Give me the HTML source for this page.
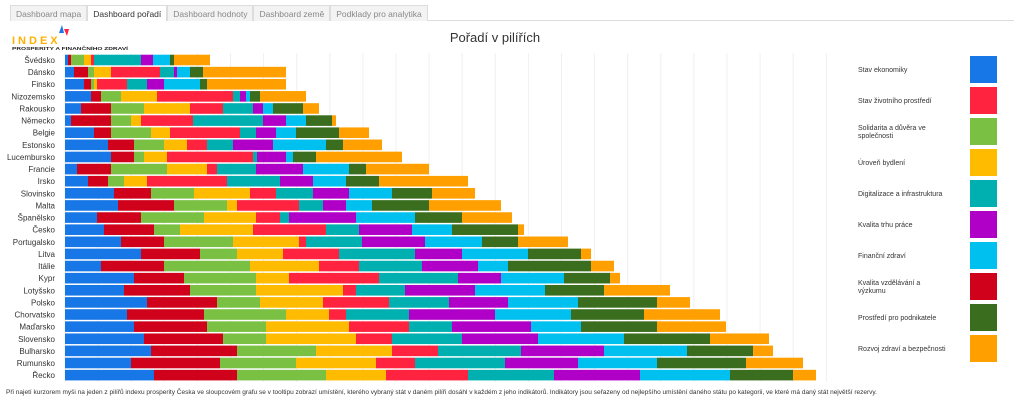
<!DOCTYPE html>
<html><head><meta charset="utf-8">
<style>
body{margin:0;width:1024px;height:405px;background:#fff;font-family:"Liberation Sans",sans-serif;overflow:hidden;position:relative}
.tabs{position:absolute;left:10px;top:5px;height:15px;display:flex;border-bottom:1px solid #ddd;width:1004px}
.tab{font-size:8.5px;color:#888;background:#f3f3f3;border:1px solid #ddd;border-bottom:none;padding:2px 5px 0 5px;height:13px;line-height:12px;white-space:nowrap;box-sizing:content-box}
.tab.sel{background:#fff;color:#333}
</style></head><body>
<div class="tabs">
<div class="tab">Dashboard mapa</div>
<div class="tab sel">Dashboard pořadí</div>
<div class="tab">Dashboard hodnoty</div>
<div class="tab">Dashboard země</div>
<div class="tab">Podklady pro analytika</div>
</div>
<svg id="s" width="1024" height="405" style="position:absolute;left:0;top:0" xmlns="http://www.w3.org/2000/svg">
<text x="12" y="44" font-size="11" font-weight="bold" fill="#ffb000" letter-spacing="3" font-family="Liberation Sans,sans-serif">INDEX</text>
<polygon points="59,33 62,25 64,33" fill="#1877e6"/>
<polygon points="64,29 69,29 67,36" fill="#ff2340"/>
<text x="12" y="50" font-size="4.5" font-weight="bold" fill="#222" textLength="116" lengthAdjust="spacingAndGlyphs" font-family="Liberation Sans,sans-serif">PROSPERITY A FINANČNÍHO ZDRAVÍ</text>
<text x="495" y="42" font-size="13" fill="#333" text-anchor="middle" font-family="Liberation Sans,sans-serif">Pořadí v pilířích</text>
<text x="6" y="394" font-size="6.8" fill="#333" textLength="871" lengthAdjust="spacingAndGlyphs" font-family="Liberation Sans,sans-serif">Při najetí kurzorem myši na jeden z pilířů indexu prosperity Česka ve sloupcovém grafu se v tooltipu zobrazí umístění, kterého vybraný stát v daném pilíři dosáhl v každém z jeho indikátorů. Indikátory jsou seřazeny od nejlepšího umístění daného státu po kategorii, ve které má daný stát největší rezervy.</text>
<g id="g"></g>
</svg>
<script>
var C=["#1877e6","#d0021b","#7ac143","#ffbb00","#ff2340","#00b0b0","#b000c8","#00c0f0","#3a6e1e","#ffa000"];
var R=[["Švédsko",68,71,84,91,94,141,153,170,174,210],
["Dánsko",74,88,94,111,160,174,177,190,203,286],
["Finsko",84,91,94,97,127,147,164,200,207,286],
["Nizozemsko",91,101,121,157,233,240,246,250,260,306],
["Rakousko",81,111,144,190,223,253,263,273,303,319],
["Německo",71,111,131,141,193,263,286,306,332,336],
["Belgie",94,111,151,170,240,256,276,296,339,369],
["Estonsko",108,134,164,187,207,233,273,326,343,382],
["Lucembursko",111,134,144,167,253,257,286,293,316,402],
["Francie",77,111,167,207,217,256,303,349,366,429],
["Irsko",88,108,124,147,227,280,313,346,379,468],
["Slovinsko",114,151,194,250,276,313,349,392,432,475],
["Malta",118,174,227,237,299,323,346,372,429,501],
["Španělsko",97,141,204,256,280,289,356,415,462,512],
["Česko",104,154,180,253,326,359,412,452,518,524],
["Portugalsko",121,164,233,299,306,362,425,482,518,568],
["Litva",141,200,237,283,339,415,462,528,581,591],
["Itálie",101,164,250,319,359,422,478,508,591,614],
["Kypr",134,184,256,289,379,458,501,564,610,620],
["Lotyšsko",124,190,256,343,356,405,475,545,604,670],
["Polsko",147,217,260,323,389,449,508,578,657,690],
["Chorvatsko",127,204,286,329,346,409,495,571,644,720],
["Maďarsko",134,207,266,349,409,452,531,581,657,726],
["Slovensko",144,223,266,356,392,462,538,624,710,769],
["Bulharsko",151,237,316,392,438,521,604,687,753,773],
["Rumunsko",131,220,296,376,415,505,578,657,746,803],
["Řecko",154,237,326,386,468,554,640,730,793,816]];
var h='';
for(var k=0;k<24;k++){var x=65+k*33.1;h+='<line x1="'+x+'" y1="53" x2="'+x+'" y2="382" stroke="#f0f0f0" stroke-width="1"/>';}
R.forEach(function(r,i){var cy=60+i*12.12,y=cy-5.3,p=65;
h+='<text x="55" y="'+(cy+3)+'" font-size="8" fill="#333" text-anchor="end" font-family="Liberation Sans,sans-serif">'+r[0]+'</text>';
for(var j=1;j<=10;j++){var e=r[j];if(e>p)h+='<rect x="'+p+'" y="'+y+'" width="'+(e-p)+'" height="10.6" fill="'+C[j-1]+'"/>';p=e;}
});
var L=[["Stav ekonomiky"],["Stav životního prostředí"],["Solidarita a důvěra ve","společnosti"],["Úroveň bydlení"],["Digitalizace a infrastruktura"],["Kvalita trhu práce"],["Finanční zdraví"],["Kvalita vzdělávání a","výzkumu"],["Prostředí pro podnikatele"],["Rozvoj zdraví a bezpečnosti"]];
var LC=[C[0],C[4],C[2],C[3],C[5],C[6],C[7],C[1],C[8],C[9]];
L.forEach(function(l,i){var y=56+i*31;
h+='<rect x="970" y="'+y+'" width="27" height="27" fill="'+LC[i]+'"/>';
if(l.length==1)h+='<text x="858" y="'+(y+16)+'" font-size="7" fill="#333" font-family="Liberation Sans,sans-serif">'+l[0]+'</text>';
else h+='<text x="858" y="'+(y+12)+'" font-size="7" fill="#333" font-family="Liberation Sans,sans-serif">'+l[0]+'</text><text x="858" y="'+(y+20)+'" font-size="7" fill="#333" font-family="Liberation Sans,sans-serif">'+l[1]+'</text>';
});
document.getElementById('g').innerHTML=h;
</script>
</body></html>
